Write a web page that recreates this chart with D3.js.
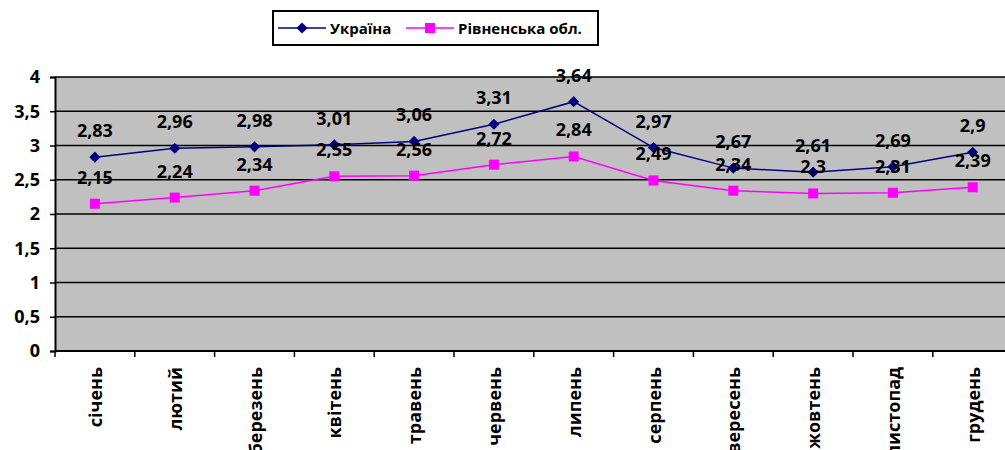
<!DOCTYPE html>
<html>
<head>
<meta charset="utf-8">
<script src="https://cdn.jsdelivr.net/npm/d3@7"></script>
<style>
  body { margin: 0; background: #fff; }
  svg { display: block; font-family: 'Open Sans', sans-serif; font-weight: bold; }
</style>
</head>
<body>
<svg id="chart" width="1005" height="450"></svg>
<script>
// months, two series
const months = ['січень', 'лютий', 'березень', 'квітень', 'травень', 'червень',
  'липень', 'серпень', 'вересень', 'жовтень', 'листопад', 'грудень']
const ukraine = [2.83, 2.96, 2.98, 3.01, 3.06, 3.31, 3.64, 2.97, 2.67, 2.61, 2.69, 2.9]
const rivne   = [2.15, 2.24, 2.34, 2.55, 2.56, 2.72, 2.84, 2.49, 2.34, 2.3, 2.31, 2.39]
const yTicks  = [0, 0.5, 1, 1.5, 2, 2.5, 3, 3.5, 4]
const seriesNames = ['Україна', 'Рівненська обл.']

const svg = d3.select('#chart')
const plotL = 55, plotT = 77, plotB = 351
const bandW = 79.8
const plotR = plotL + bandW * months.length
const font = "'Open Sans', sans-serif"

const x = d3.scaleBand().domain(months).range([plotL, plotR])
const y = d3.scaleLinear().domain([0, 4]).range([plotB, plotT])
const fmt = v => String(v).replace('.', ',')

// plot background
svg.append('rect')
  .attr('x', plotL).attr('y', plotT)
  .attr('width', plotR - plotL).attr('height', plotB - plotT)
  .attr('fill', '#c0c0c0')

// gridlines
svg.append('g')
  .selectAll('line')
  .data(yTicks.filter(d => d > 0))
  .enter().append('line')
  .attr('x1', plotL).attr('x2', plotR)
  .attr('y1', d => y(d)).attr('y2', d => y(d))
  .attr('stroke', '#000').attr('stroke-width', 1.5)

// y axis
const yAxis = svg.append('g')
  .attr('transform', `translate(${plotL},0)`)
  .call(d3.axisLeft(y).tickValues(yTicks).tickFormat(fmt).tickSize(5).tickPadding(10))
yAxis.select('.domain').attr('stroke', '#000').attr('stroke-width', 2)
yAxis.selectAll('line').attr('stroke', '#000').attr('stroke-width', 1.5)
yAxis.selectAll('text').attr('font-size', 18).attr('fill', '#000')
  .attr('font-family', font).attr('font-weight', 'bold')

// x axis line + ticks at band edges
svg.append('line')
  .attr('x1', plotL).attr('x2', plotR).attr('y1', plotB).attr('y2', plotB)
  .attr('stroke', '#000').attr('stroke-width', 2)
svg.append('g')
  .selectAll('line')
  .data(months)
  .enter().append('line')
  .attr('x1', d => x(d)).attr('x2', d => x(d))
  .attr('y1', plotB).attr('y2', plotB + 6)
  .attr('stroke', '#000').attr('stroke-width', 1.5)

// x labels, rotated
svg.append('g')
  .selectAll('text')
  .data(months)
  .enter().append('text')
  .attr('transform', d => `translate(${x(d) + x.bandwidth() / 2 + 7},367) rotate(-90)`)
  .attr('text-anchor', 'end')
  .attr('font-size', 18)
  .text(d => d)

const cx = (d, i) => x(months[i]) + x.bandwidth() / 2
const line = d3.line().x(cx).y(d => y(d))

// Рівненська обл.
svg.append('path').datum(rivne)
  .attr('d', line).attr('fill', 'none')
  .attr('stroke', '#ff00ff').attr('stroke-width', 1.5)
svg.append('g').selectAll('rect')
  .data(rivne).enter().append('rect')
  .attr('x', (d, i) => cx(d, i) - 5).attr('y', d => y(d) - 5)
  .attr('width', 10).attr('height', 10)
  .attr('fill', '#ff00ff')

// Україна
svg.append('path').datum(ukraine)
  .attr('d', line).attr('fill', 'none')
  .attr('stroke', '#000080').attr('stroke-width', 1.5)
const diamond = d3.symbol().type(d3.symbolDiamond2).size(80)
svg.append('g').selectAll('path')
  .data(ukraine).enter().append('path')
  .attr('d', diamond)
  .attr('transform', (d, i) => `translate(${cx(d, i)},${y(d)})`)
  .attr('fill', '#000080')

// data labels
const labels = svg.append('g').attr('font-size', 18).attr('text-anchor', 'middle').attr('fill', '#000')
labels.selectAll('.lu').data(ukraine).enter().append('text')
  .attr('x', cx).attr('y', d => y(d) - 20).text(fmt)
labels.selectAll('.lr').data(rivne).enter().append('text')
  .attr('x', cx).attr('y', d => y(d) - 20).text(fmt)

// legend
const lg = svg.append('g')
lg.append('rect')
  .attr('x', 273).attr('y', 11).attr('width', 325).attr('height', 34)
  .attr('fill', '#fff').attr('stroke', '#000').attr('stroke-width', 2)
const items = [
  { name: seriesNames[0], color: '#000080', x0: 278, shape: 'diamond' },
  { name: seriesNames[1], color: '#ff00ff', x0: 406, shape: 'square' }
]
items.forEach(it => {
  lg.append('line')
    .attr('x1', it.x0).attr('x2', it.x0 + 48).attr('y1', 28).attr('y2', 28)
    .attr('stroke', it.color).attr('stroke-width', 1.5)
  if (it.shape === 'diamond') {
    lg.append('path').attr('d', diamond)
      .attr('transform', `translate(${it.x0 + 24},28)`).attr('fill', it.color)
  } else {
    lg.append('rect').attr('x', it.x0 + 19).attr('y', 23)
      .attr('width', 10).attr('height', 10).attr('fill', it.color)
  }
  lg.append('text')
    .attr('x', it.x0 + 52).attr('y', 34)
    .attr('font-size', 15)
    .text(it.name)
})
</script>
</body>
</html>
